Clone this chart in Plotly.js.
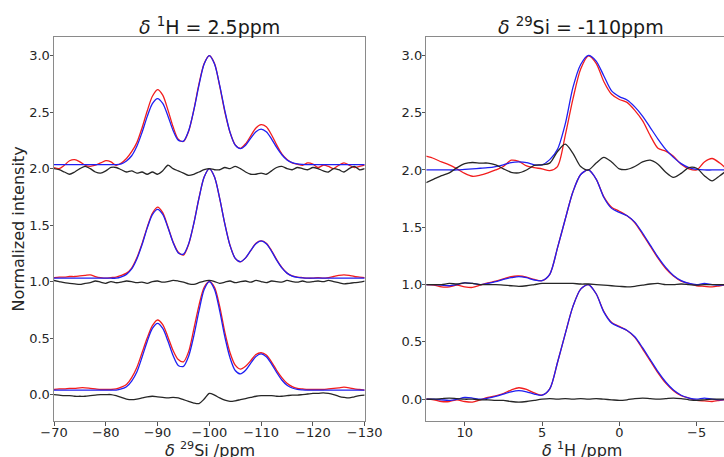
<!DOCTYPE html>
<html><head><meta charset="utf-8">
<script src="https://cdn.plot.ly/plotly-3.0.1.min.js"></script>
<style>body{margin:0;padding:0;background:#fff}#chart{width:724px;height:457px}</style>
</head><body><div id="chart"></div>
<script>
// ---- Left panel: slice at delta 1H = 2.5 ppm, x = delta 29Si (ppm) ----
const xSi = [-70,-71,-72,-73,-74,-75,-76,-77,-78,-79,-80,-81,-82,-83,-84,-85,-86,-87,-88,-89,-90,-91,-92,-93,-94,-95,-96,-97,-98,-99,-100,-101,-102,-103,-104,-105,-106,-107,-108,-109,-110,-111,-112,-113,-114,-115,-116,-117,-118,-119,-120,-121,-122,-123,-124,-125,-126,-127,-128,-129,-130];

const siRed0 = [0.045,0.05,0.05,0.055,0.055,0.06,0.06,0.055,0.05,0.045,0.045,0.045,0.05,
 0.065,0.09,0.15,0.24,0.37,0.50,0.61,0.66,0.62,0.51,0.39,0.31,0.29,0.38,0.58,0.79,0.95,1.0,0.95,0.78,0.55,0.37,0.26,0.225,0.25,0.30,0.355,0.37,0.35,0.29,0.215,0.15,0.10,0.07,0.055,0.05,
 0.045,0.045,0.045,0.045,0.05,0.055,0.06,0.065,0.06,0.05,0.045,0.04];
const siBlue0 = [0.04,0.04,0.04,0.04,0.04,0.04,0.04,0.04,0.04,0.04,0.04,0.04,0.04,
 0.05,0.07,0.12,0.20,0.33,0.47,0.585,0.63,0.585,0.474,0.346,0.258,0.25,0.34,0.52,0.74,0.93,1.0,0.93,0.74,0.51,0.325,0.213,0.183,0.215,0.278,0.337,0.36,0.335,0.272,0.196,0.129,0.083,0.058,0.046,0.042,
 0.04,0.04,0.04,0.04,0.04,0.04,0.04,0.04,0.04,0.04,0.04,0.04];
const siDiff0 = [0.0,-0.005,-0.01,-0.01,-0.015,-0.015,-0.015,-0.01,-0.005,0.0,0.0,0.0,-0.01,
 -0.025,-0.04,-0.045,-0.04,-0.03,-0.02,-0.015,-0.02,-0.025,-0.03,-0.025,-0.03,-0.045,-0.06,-0.075,-0.08,-0.04,0.01,-0.005,-0.03,-0.05,-0.06,-0.055,-0.045,-0.035,-0.025,-0.015,-0.01,-0.01,-0.01,-0.015,-0.015,-0.01,-0.005,-0.005,0.0,
 0.005,0.01,0.01,0.015,0.01,0.0,-0.015,-0.025,-0.03,-0.02,-0.01,-0.005];

const siRed1 = [1.035,1.04,1.04,1.045,1.045,1.05,1.055,1.06,1.045,1.035,1.03,1.035,1.04,
 1.055,1.075,1.12,1.21,1.335,1.48,1.605,1.66,1.61,1.485,1.35,1.26,1.235,1.33,1.515,1.74,1.925,2.0,1.925,1.735,1.51,1.32,1.205,1.175,1.21,1.275,1.34,1.36,1.34,1.275,1.195,1.125,1.075,1.05,1.04,1.035,
 1.03,1.03,1.035,1.03,1.035,1.045,1.055,1.06,1.055,1.045,1.04,1.035];
const siBlue1 = [1.03,1.03,1.03,1.03,1.03,1.03,1.03,1.03,1.03,1.03,1.03,1.03,1.03,
 1.042,1.064,1.112,1.20,1.327,1.473,1.593,1.64,1.595,1.479,1.346,1.254,1.243,1.334,1.514,1.738,1.925,2.0,1.926,1.736,1.509,1.318,1.206,1.176,1.21,1.276,1.336,1.36,1.335,1.27,1.19,1.122,1.075,1.048,1.037,1.032,
 1.03,1.03,1.03,1.03,1.03,1.03,1.03,1.03,1.03,1.03,1.03,1.03];
const siDiff1 = [1.01,1.0,0.99,0.985,0.98,0.975,0.985,0.99,1.005,0.995,0.985,1.0,0.99,0.995,1.005,1.0,0.99,0.995,0.985,1.0,
 1.005,0.995,1.0,1.01,1.005,0.995,0.98,0.975,0.99,1.005,1.01,1.0,0.985,0.995,1.005,0.99,1.0,1.005,0.995,1.01,
 1.0,0.99,1.005,1.0,0.995,1.01,1.0,0.995,1.005,0.995,1.0,1.005,1.0,1.01,1.0,0.99,0.98,0.985,0.99,0.995,1.005];

const siRed2 = [2.01,2.0,2.03,2.07,2.08,2.06,2.03,2.02,2.03,2.05,2.07,2.06,2.03,
 2.05,2.09,2.15,2.23,2.36,2.51,2.64,2.70,2.65,2.52,2.37,2.26,2.24,2.33,2.52,2.75,2.93,3.0,2.93,2.73,2.50,2.32,2.21,2.18,2.22,2.29,2.36,2.39,2.37,2.30,2.21,2.13,2.08,2.05,2.04,2.03,
 2.05,2.04,2.01,2.03,2.02,2.0,2.03,2.05,2.03,2.01,2.02,2.03];
const siBlue2 = [2.035,2.035,2.035,2.035,2.035,2.035,2.035,2.035,2.035,2.035,2.035,2.035,2.035,
 2.042,2.068,2.114,2.198,2.32,2.46,2.575,2.62,2.577,2.466,2.338,2.252,2.244,2.336,2.517,2.739,2.926,3.0,2.926,2.737,2.511,2.321,2.208,2.177,2.207,2.27,2.327,2.35,2.326,2.264,2.188,2.123,2.077,2.053,2.041,2.037,
 2.035,2.035,2.035,2.035,2.035,2.035,2.035,2.035,2.035,2.035,2.035,2.035];
const siDiff2 = [2.0,1.99,1.97,1.95,1.97,2.0,2.02,2.0,1.97,1.96,1.98,2.01,2.01,1.99,1.97,1.98,1.96,1.97,1.95,1.97,
 1.95,1.98,2.03,2.0,1.98,1.96,1.94,1.95,1.97,1.99,2.0,1.99,1.99,2.01,2.0,2.02,2.0,1.97,1.95,1.95,
 1.96,1.95,1.98,2.01,2.02,2.0,1.99,2.01,2.0,1.99,2.01,2.0,1.98,1.97,2.0,1.99,1.97,2.0,2.02,1.99,2.0];

// ---- Right panel: slice at delta 29Si = -110 ppm, x = delta 1H (ppm) ----
const xH = [12.5,12,11.5,11,10.5,10,9.5,9,8.5,8,7.5,7,6.5,6,5.5,5,4.5,4,3.5,3,2.5,2,1.5,1,0.5,0,-0.5,-1,-1.5,-2,-2.5,-3,-3.5,-4,-4.5,-5,-5.5,-6,-6.5,-7];

const hRed0 = [0.0,-0.005,-0.02,-0.02,-0.005,-0.02,-0.025,-0.005,0.015,0.03,0.05,0.08,0.10,0.085,0.055,0.035,0.09,0.32,0.57,0.81,
 0.96,1.0,0.92,0.765,0.67,0.635,0.60,0.54,0.44,0.335,0.23,0.14,0.075,0.03,0.01,-0.01,-0.015,-0.02,-0.01,0.0];
const hBlue0 = [0.0,0.0,-0.005,-0.01,0.0,0.015,0.01,0.0,0.01,0.025,0.045,0.065,0.075,0.065,0.045,0.035,0.09,0.32,0.57,0.81,
 0.96,1.0,0.92,0.76,0.665,0.63,0.60,0.545,0.45,0.345,0.24,0.15,0.08,0.035,0.01,0.0,0.01,0.0,-0.005,0.0];
const hDiff0 = [0.0,0.0,0.005,0.01,0.005,0.0,0.0,-0.005,-0.005,-0.01,-0.01,-0.02,-0.025,-0.02,-0.01,0.0,0.005,0.0,0.005,0.0,
 0.005,0.0,0.005,0.0,-0.005,-0.01,-0.005,0.005,0.01,0.005,0.0,0.005,0.01,0.005,-0.005,-0.01,-0.005,0.0,0.0,0.0];

const hRed1 = [1.0,0.995,0.98,0.98,0.995,0.98,0.975,0.995,1.015,1.03,1.05,1.07,1.075,1.065,1.045,1.035,1.09,1.32,1.57,1.81,
 1.96,2.0,1.92,1.765,1.675,1.64,1.60,1.54,1.44,1.335,1.23,1.14,1.075,1.03,1.01,0.99,0.985,0.98,0.99,1.0];
const hBlue1 = [1.0,1.0,0.995,0.99,1.0,1.015,1.01,1.0,1.01,1.025,1.045,1.06,1.07,1.06,1.04,1.035,1.09,1.32,1.57,1.81,
 1.96,2.0,1.92,1.76,1.665,1.63,1.60,1.545,1.45,1.345,1.24,1.15,1.08,1.035,1.01,1.0,1.01,1.0,0.995,1.0];
const hDiff1 = [1.0,1.0,1.0,1.01,1.005,1.015,1.01,1.0,1.0,1.0,0.995,0.99,0.985,0.99,1.0,1.01,1.01,1.01,1.01,1.01,
 1.005,1.005,1.0,0.995,0.99,0.985,0.98,0.985,0.995,1.005,1.01,1.0,1.0,1.005,1.0,0.995,1.0,1.0,1.0,1.0];

const hRed2 = [2.12,2.10,2.07,2.045,2.01,1.97,1.945,1.955,1.975,2.0,2.03,2.085,2.075,2.035,2.02,2.01,1.995,2.03,2.30,2.62,
 2.88,2.995,2.93,2.77,2.66,2.615,2.59,2.52,2.43,2.30,2.19,2.165,2.12,2.05,2.01,2.0,2.07,2.10,2.06,2.0];
const hBlue2 = [2.0,2.0,2.0,2.0,2.0,2.005,2.01,2.015,2.02,2.03,2.045,2.065,2.07,2.065,2.045,2.045,2.09,2.18,2.40,2.72,
 2.92,3.0,2.95,2.82,2.69,2.64,2.61,2.55,2.47,2.37,2.27,2.18,2.11,2.055,2.02,2.005,2.0,2.0,2.0,2.0];
const hDiff2 = [1.89,1.92,1.95,1.975,2.02,2.055,2.065,2.06,2.06,2.045,2.01,1.98,1.975,2.0,2.04,2.045,2.06,2.16,2.225,2.145,
 2.03,2.0,2.06,2.11,2.07,2.01,2.005,2.03,2.07,2.085,2.05,1.98,1.935,1.97,2.02,2.015,1.95,1.905,1.95,2.0];

const RED = '#f21d1d', BLUE = '#1f1ff2', BLACK = '#262626';
function tr(x, y, color, xa, ya) {
  return {x: x, y: y, type: 'scatter', mode: 'lines', xaxis: xa, yaxis: ya,
    line: {color: color, width: 1.3, shape: 'spline', smoothing: 0.8}, hoverinfo: 'skip'};
}
const data = [];
[[siRed0, siBlue0, siDiff0], [siRed1, siBlue1, siDiff1], [siRed2, siBlue2, siDiff2]].forEach(s => {
  data.push(tr(xSi, s[0], RED, 'x', 'y'));
  data.push(tr(xSi, s[1], BLUE, 'x', 'y'));
  data.push(tr(xSi, s[2], BLACK, 'x', 'y'));
});
[[hRed0, hBlue0, hDiff0], [hRed1, hBlue1, hDiff1], [hRed2, hBlue2, hDiff2]].forEach(s => {
  data.push(tr(xH, s[0], RED, 'x2', 'y2'));
  data.push(tr(xH, s[1], BLUE, 'x2', 'y2'));
  data.push(tr(xH, s[2], BLACK, 'x2', 'y2'));
});

const FONT = 'DejaVu Sans, sans-serif';
const axBase = {
  showgrid: false, zeroline: false, showline: true, linecolor: '#8a8a8a', linewidth: 1,
  ticks: 'outside', ticklen: 3.5, tickcolor: '#555', tickwidth: 1,
  tickfont: {family: FONT, size: 13, color: '#262626'}
};
const layout = {
  width: 724, height: 457,
  margin: {l: 54, r: 0, t: 37, b: 36},
  paper_bgcolor: '#fff', plot_bgcolor: '#fff',
  showlegend: false,
  xaxis: Object.assign({}, axBase, {domain: [0, 0.4637], anchor: 'y', range: [-70, -130], mirror: true,
    tickvals: [-70, -80, -90, -100, -110, -120, -130], ticklabelstandoff: -4}),
  yaxis: Object.assign({}, axBase, {domain: [0, 1], anchor: 'x', range: [-0.234, 3.165], mirror: true,
    dtick: 0.5, tick0: 0, tickformat: '.1f', ticklabelstandoff: -3,
    title: {text: 'Normalized intensity', font: {family: FONT, size: 16, color: '#262626'}, standoff: 0}}),
  xaxis2: Object.assign({}, axBase, {domain: [0.5558, 1], anchor: 'y2', range: [12.48, -6.77], mirror: true,
    tickvals: [10, 5, 0, -5], ticklabelstandoff: -4}),
  yaxis2: Object.assign({}, axBase, {domain: [0, 1], anchor: 'x2', range: [-0.19, 3.16], mirror: false,
    dtick: 0.5, tick0: 0, tickformat: '.1f', ticklabelstandoff: -3}),
  annotations: [
    {text: '<i>δ</i> <sup>1</sup>H = 2.5ppm', xref: 'paper', yref: 'paper', x: 0.2328, y: 1, yshift: -3,
     xanchor: 'center', yanchor: 'bottom', showarrow: false, font: {family: FONT, size: 19, color: '#1a1a1a'}},
    {text: '<i>δ</i> <sup>29</sup>Si = -110ppm', xref: 'paper', yref: 'paper', x: 0.7866, y: 1, yshift: -3,
     xanchor: 'center', yanchor: 'bottom', showarrow: false, font: {family: FONT, size: 19, color: '#1a1a1a'}},
    {text: '<i>δ</i> <sup>29</sup>Si /ppm', xref: 'paper', yref: 'paper', x: 0.2328, y: -0.042,
     xanchor: 'center', yanchor: 'top', showarrow: false, font: {family: FONT, size: 16, color: '#262626'}},
    {text: '<i>δ</i> <sup>1</sup>H /ppm', xref: 'paper', yref: 'paper', x: 0.7876, y: -0.042,
     xanchor: 'center', yanchor: 'top', showarrow: false, font: {family: FONT, size: 16, color: '#262626'}}
  ]
};
Plotly.newPlot('chart', data, layout, {staticPlot: true, displayModeBar: false});
</script></body></html>
